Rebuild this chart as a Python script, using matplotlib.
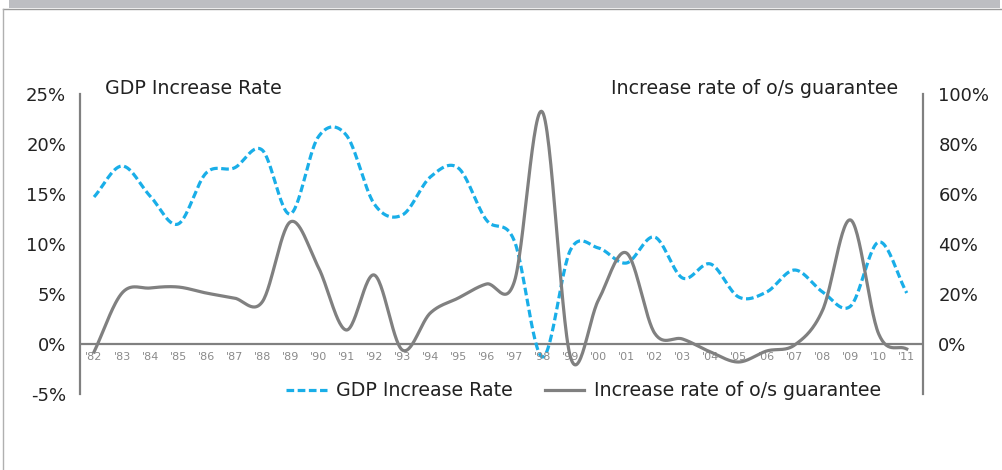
import numpy as np
import matplotlib.pyplot as plt
from matplotlib.lines import Line2D
from matplotlib.patches import Rectangle

### data ###
years = ["'82", "'83", "'84", "'85", "'86", "'87", "'88", "'89", "'90", "'91",
         "'92", "'93", "'94", "'95", "'96", "'97", "'98", "'99", "'00", "'01",
         "'02", "'03", "'04", "'05", "'06", "'07", "'08", "'09", "'10", "'11"]
gdp = [14.7, 17.8, 14.8, 12.0, 17.1, 17.6, 19.4, 13.0, 20.7, 20.9,
       14.0, 12.9, 16.7, 17.6, 12.4, 10.3, -1.3, 9.4, 9.6, 8.1,
       10.7, 6.6, 8.0, 4.7, 5.2, 7.4, 5.2, 3.8, 10.2, 5.1]
guarantee = [-3.2, 20.4, 22.4, 22.8, 20.4, 18.4, 16.8, 48.8, 30.8, 5.6,
             27.6, -2.4, 12.4, 18.4, 24.0, 25.0, 92.8, -5.2, 17.6, 36.4,
             4.4, 2.0, -3.2, -7.2, -2.8, -0.4, 13.6, 49.6, 4.0, -2.0]

blue = '#19aee8'
grey = '#808080'
dark = '#222222'


def smooth(y, n=30):
    # catmull-rom through the yearly points
    y = np.asarray(y, dtype=float)
    p = np.concatenate([[2*y[0]-y[1]], y, [2*y[-1]-y[-2]]])
    xs, ys = [], []
    t = np.linspace(0, 1, n, endpoint=False)
    for i in range(len(y)-1):
        p0, p1, p2, p3 = p[i], p[i+1], p[i+2], p[i+3]
        seg = 0.5*((2*p1) + (-p0+p2)*t + (2*p0-5*p1+4*p2-p3)*t**2 + (-p0+3*p1-3*p2+p3)*t**3)
        xs.append(i+t)
        ys.append(seg)
    xs.append([len(y)-1])
    ys.append([y[-1]])
    return np.concatenate(xs), np.concatenate(ys)


fig = plt.figure(figsize=(10.03, 4.70), dpi=100)

# page frame
fig.patches.append(Rectangle((9/1003, 1-8/470), 991/1003, 8/470, transform=fig.transFigure,
                             facecolor='#bdbec2', edgecolor='none'))
fig.lines.append(Line2D([3/1003, 1], [1-8.5/470, 1-8.5/470], transform=fig.transFigure, color='#9a9a9a', lw=1))
fig.lines.append(Line2D([3/1003, 3/1003], [0, 1-8.5/470], transform=fig.transFigure, color='#b0b0b0', lw=1))

ax = fig.add_axes([80/1003, 1-394/470, 843/1003, 300/470])
ax2 = ax.twinx()

x = np.arange(len(years))
xs, gs = smooth(gdp)
xs2, us = smooth(guarantee)

ax.plot(xs, gs, color=blue, lw=2.3, dashes=(2.4, 1.1), zorder=3)
ax2.plot(xs2, us, color=grey, lw=2.3, zorder=2)

ax.set_xlim(-0.5, 29.58)
ax.set_ylim(-5, 25)
ax2.set_ylim(-20, 100)
ax.axhline(0, color=grey, lw=1.6, zorder=1)

for a in (ax, ax2):
    a.patch.set_visible(False)
    for s in ('top', 'bottom'):
        a.spines[s].set_visible(False)
    a.set_xticks([])
    a.tick_params(axis='y', length=0, labelsize=13, labelcolor=dark)
ax.spines['right'].set_visible(False)
ax2.spines['left'].set_visible(False)
ax.spines['left'].set_color(grey)
ax.spines['left'].set_linewidth(1.6)
ax2.spines['right'].set_color(grey)
ax2.spines['right'].set_linewidth(1.6)

ax.set_yticks([-5, 0, 5, 10, 15, 20, 25])
ax.set_yticklabels([str(v) + '%' for v in [-5, 0, 5, 10, 15, 20, 25]])
ax.tick_params(axis='y', pad=10)
ax2.set_yticks([0, 20, 40, 60, 80, 100])
ax2.set_yticklabels([str(v) + '%' for v in [0, 20, 40, 60, 80, 100]])
ax2.tick_params(axis='y', pad=11)

# year labels under the zero line
for i, lab in enumerate(years):
    ax.text(i, -1.3, lab, ha='center', va='center', fontsize=8, color='#8a8a8a')

ax.text(0.4, 25.6, 'GDP Increase Rate', ha='left', va='center', fontsize=13.7, color=dark)
ax.text(28.7, 25.6, 'Increase rate of o/s guarantee', ha='right', va='center', fontsize=13.7, color=dark)

# legend
ax.add_line(Line2D([6.85, 8.3], [-4.6, -4.6], color=blue, lw=2.3, dashes=(2.4, 1.1), clip_on=False))
ax.text(8.65, -4.6, 'GDP Increase Rate', ha='left', va='center', fontsize=13.7, color=dark)
ax.add_line(Line2D([16.1, 17.5], [-4.6, -4.6], color=grey, lw=2.3, clip_on=False))
ax.text(17.85, -4.6, 'Increase rate of o/s guarantee', ha='left', va='center', fontsize=13.7, color=dark)

plt.savefig('out.png', dpi=100)
